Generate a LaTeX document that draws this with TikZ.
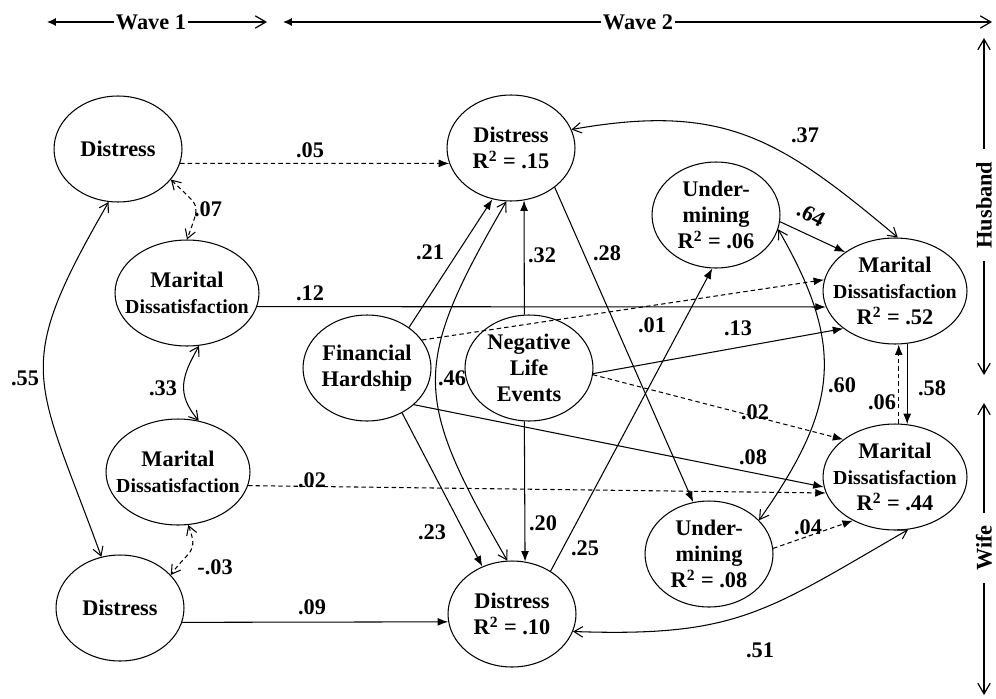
\documentclass[tikz,border=0pt]{standalone}
\usepackage{fontspec}
\setmainfont{Liberation Serif}
\usetikzlibrary{shapes.geometric}
\usetikzlibrary{arrows.meta}
\newcommand{\Dissat}{{\fontsize{11.3}{14}\selectfont Dissatisfaction}}
\newcommand{\Rsq}{R\textsuperscript{2}}
\tikzset{every node/.style={font=\fontsize{12.7}{15}\selectfont\bfseries}, % Bold Times-like text everywhere
      construct/.style={ % Sets the properties for each latent variable
      ellipse, draw, line width=0.6pt, inner sep=0pt,
      minimum width=2.56cm, minimum height=2.12cm},
      wide/.style={construct, minimum width=2.88cm}, % Marital dissatisfaction ellipses
      ctext/.style={align=center, inner sep=0pt},
      coef/.style={inner sep=1pt}, % Path coefficients
      hdr/.style={inner sep=1pt},
      side/.style={rotate=90, inner xsep=7pt, inner ysep=1pt}, % Husband / wife labels
      effect/.style={line width=0.6pt, -{Latex[length=6pt,width=4.5pt]}}, % Directed paths
      ns/.style={effect, dash pattern=on 2.5pt off 1.8pt}, % Non-significant paths
      corr/.style={line width=0.6pt,
      {Straight Barb[length=5pt,width=6pt]}-{Straight Barb[length=5pt,width=6pt]}},
      ncorr/.style={corr, dash pattern=on 2.5pt off 1.8pt},
      lead/.style={line width=0.7pt, -{Latex[length=5pt,width=4.5pt]}},
      trail/.style={line width=0.7pt, -{Straight Barb[length=6pt,width=7pt]}}}

\begin{document}
\begin{tikzpicture}[x=0.02cm, y=0.02cm]
      \useasboundingbox (0,0) rectangle (996,698);
      % Wave 1
      \node[construct, label={[ctext]center:Distress}] (hd1) at (118,549) {};
      \node[wide, label={[ctext]center:{Marital\\\Dissat}}] (hmd1) at (187,405) {};
      \node[wide, label={[ctext]center:{Marital\\\Dissat}}] (wmd1) at (178,226) {};
      \node[construct, label={[ctext]center:Distress}] (wd1) at (120,90) {};
      % Wave 2
      \node[construct, label={[ctext]center:{Distress\\\Rsq{} = .15}}] (hd2) at (511,550) {};
      \node[construct, label={[ctext]center:{Financial\\Hardship}}] (fh) at (367,330) {};
      \node[construct, label={[ctext]center:{Negative\\Life\\Events}}] (nle) at (529,330) {};
      \node[construct, label={[ctext]center:{Distress\\\Rsq{} = .10}}] (wd2) at (512,84) {};
      \node[construct, label={[ctext]center:{Under-\\mining\\\Rsq{} = .06}}] (uh) at (716,483) {};
      \node[construct, label={[ctext]center:{Under-\\mining\\\Rsq{} = .08}}] (uw) at (709,144) {};
      \node[wide, label={[ctext]center:{Marital\\\Dissat\\\Rsq{} = .52}}] (hmd2) at (895,407) {};
      \node[wide, label={[ctext]center:{Marital\\\Dissat\\\Rsq{} = .44}}] (wmd2) at (895,221) {};

      % Stability paths
      \draw[ns] (hd1.-13) -- (hd2.194);
      \draw[effect] (hmd1.-11) -- (hmd2.193);
      \draw[ns] (wmd1.-11) -- (wmd2.193);
      \draw[effect] (wd1.-13) -- (wd2.187);
      % Wave 1 correlations
      \draw[ncorr] (hd1.-30) to[out=-45, in=70, looseness=1.7] (hmd1.90);
      \draw[corr] (hmd1.283) to[out=-120, in=130, looseness=1.2] (wmd1.68);
      \draw[ncorr] (wmd1.281) to[out=-70, in=55, looseness=1.5] (wd1.33);
      \draw[corr] (hd1.260) to[out=-120, in=110, looseness=1.4] (wd1.110);
      % Stressors
      \draw[effect] (fh.44) -- (hd2.250);
      \draw[effect] (fh.-52) -- (wd2.122);
      \draw[ns] (fh.27) -- (hmd2.171);
      \draw[effect] (fh.-38) -- (wmd2.188);
      \draw[effect] (nle.95) -- (hd2.284);
      \draw[effect] (nle.265) -- (wd2.76);
      \draw[effect] (nle.-5) -- (hmd2.216);
      \draw[ns] (nle.-6) -- (wmd2.144);
      % Distress and undermining
      \draw[corr] (hd2.265) to[out=-120, in=120, looseness=1.35] (wd2.95);
      \draw[effect] (hd2.-42) -- (uw.107);
      \draw[effect] (wd2.48) -- (uh.266);
      \draw[corr] (hd2.17) to[out=10, in=140, looseness=1.15] (hmd2.87);
      \draw[effect] (uh.-6) -- (hmd2.142);
      \draw[corr] (uh.-13) to[out=-60, in=55, looseness=1.2] (uw.34);
      \draw[ns] (uw.5) -- (wmd2.226);
      \draw[corr] (wd2.-16) to[out=-2, in=210, looseness=1.2] (wmd2.284);
      \draw[effect] (hmd2.283) -- (wmd2.77);
      \draw[ns] (wmd2.86) -- (hmd2.274);

      % Coefficients
      \node[coef] (c05) at (310,548) {.05};
      \node[coef] (c07) at (208,489) {.07};
      \node[coef] (c12) at (310,405) {.12};
      \node[coef] (c55) at (25,320) {.55};
      \node[coef] (c33) at (163,310) {.33};
      \node[coef] (c02a) at (312,218) {.02};
      \node[coef] (c03) at (215,131) {-.03};
      \node[coef] (c09) at (312,91) {.09};
      \node[coef] (c21) at (430,446) {.21};
      \node[coef] (c32) at (542,443) {.32};
      \node[coef] (c28) at (607,445) {.28};
      \node[coef] (c46) at (452,320) {.46};
      \node[coef] (c23) at (432,166) {.23};
      \node[coef] (c20) at (543,175) {.20};
      \node[coef] (c25) at (585,150) {.25};
      \node[coef] (c37) at (805,563) {.37};
      \node[coef, rotate=-28] (c64) at (811,483) {.64};
      \node[coef] (c01) at (652,373) {.01};
      \node[coef] (c13) at (738,370) {.13};
      \node[coef] (c60) at (842,313) {.60};
      \node[coef] (c02b) at (755,286) {.02};
      \node[coef] (c06) at (882,296) {.06};
      \node[coef] (c58) at (932,310) {.58};
      \node[coef] (c08) at (753,241) {.08};
      \node[coef] (c04) at (808,171) {.04};
      \node[coef] (c51) at (760,48) {.51};

      % Waves and spouses
      \node[hdr] (w1) at (151,676) {Wave 1};
      \coordinate (w1l) at (47,676);
      \coordinate (w1r) at (267,676);
      \draw[lead] (w1) -- (w1l);
      \draw[trail] (w1) -- (w1r);
      \node[hdr] (w2) at (638,676) {Wave 2};
      \coordinate (w2l) at (283,676);
      \coordinate (w2r) at (992,676);
      \draw[lead] (w2) -- (w2l);
      \draw[trail] (w2) -- (w2r);
      \node[side] (hus) at (984,493) {Husband};
      \coordinate (hust) at (984,660);
      \coordinate (husb) at (984,323);
      \draw[trail] (hus) -- (hust);
      \draw[trail] (hus) -- (husb);
      \node[side] (wif) at (984,150) {Wife};
      \coordinate (wift) at (984,295);
      \coordinate (wifb) at (984,3);
      \draw[trail] (wif) -- (wift);
      \draw[trail] (wif) -- (wifb);
\end{tikzpicture}
\end{document}
